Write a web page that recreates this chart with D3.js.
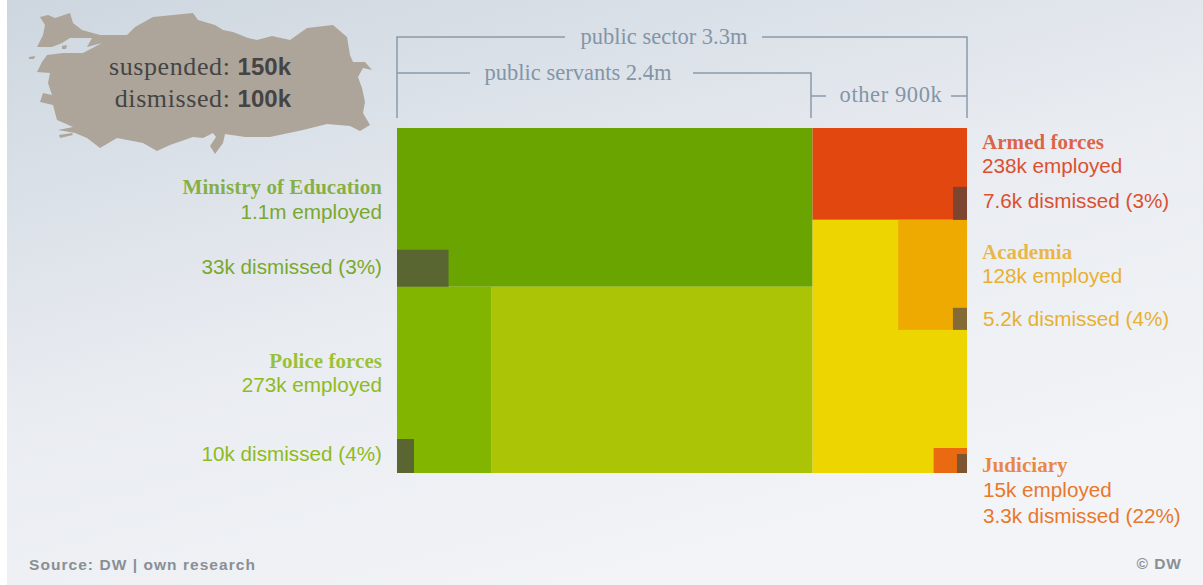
<!DOCTYPE html>
<html>
<head>
<meta charset="utf-8">
<script src="https://d3js.org/d3.v7.min.js"></script>
<style>
  html, body { margin: 0; padding: 0; background: #fff; overflow: hidden; }
  .serif { font-family: "Liberation Serif", serif; }
  .sans { font-family: "Liberation Sans", sans-serif; }
</style>
</head>
<body>
<div id="chart"></div>
<script>
const WIDTH = 1203;
const HEIGHT = 585;

// data (people employed)
const publicSector = 3300000;
const blockNames = ['Ministry of Education', 'Police forces', 'Other servants', 'Armed forces', 'Other rest'];
const blockGroups = ['servants', 'servants', 'servants', 'other', 'other'];
const blockValues = [1107000, 296000, 1003000, 238000, 656000];
const blockColors = ['#6aa400', '#82b500', '#abc406', '#e2470f', '#ecd500'];

const cornerNames = ['Academia', 'Judiciary'];
const cornerValues = [127000, 14000];
const cornerColors = ['#eeaa00', '#ea6a12'];

const dismissedNames = ['Ministry of Education', 'Police forces', 'Armed forces', 'Academia', 'Judiciary'];
const dismissedValues = [32000, 9700, 7700, 5200, 3200];
const dismissedColors = ['#596632', '#596632', '#7d4430', '#846a34', '#7d5530'];

// chart frame
const X0 = 397, X1 = 967, Y0 = 128, Y1 = 473;
const area = (X1 - X0) * (Y1 - Y0) / publicSector; // px2 per person

const svg = d3.select('#chart').append('svg').attr('width', WIDTH).attr('height', HEIGHT);

const defs = svg.append('defs');
const bg = defs.append('linearGradient').attr('id', 'bg')
  .attr('x1', '0').attr('y1', '0').attr('x2', '0.55').attr('y2', '1');
bg.append('stop').attr('offset', '0').attr('stop-color', '#cdd6df');
bg.append('stop').attr('offset', '0.55').attr('stop-color', '#e9ecf1');
bg.append('stop').attr('offset', '1').attr('stop-color', '#f2f4f7');

svg.append('rect').attr('x', 7).attr('y', 0).attr('width', WIDTH - 7).attr('height', HEIGHT).attr('fill', 'url(#bg)');

// turkey outline (traced in image pixels)
const turkey = [[40,17],[48,15],[55,18],[70,13],[73,23],[82,30],[100,35],[127,35],[135,27],[153,17],[193,13],[198,20],[215,25],[223,30],[233,32],[248,38],[257,40],[272,36],[290,40],[307,28],[333,25],[347,37],[350,55],[353,62],[365,62],[372,70],[363,68],[358,77],[362,88],[365,102],[363,113],[370,125],[360,131],[350,126],[327,124],[303,130],[270,137],[245,137],[225,134],[223,143],[215,154],[210,146],[216,137],[213,133],[203,138],[193,137],[170,145],[157,151],[143,143],[117,138],[100,148],[87,138],[75,133],[58,130],[73,127],[57,120],[53,105],[40,102],[43,93],[52,95],[48,83],[50,73],[37,72],[42,62],[47,55],[63,53],[83,53],[102,43],[87,47],[92,38],[70,38],[62,43],[52,47],[37,47],[43,35],[45,25]];
const islets = [[[29,57],[35,56],[34,59],[29,59]], [[59,135],[72,133],[73,135],[60,138]], [[62,46],[67,45],[66,49],[62,49]]];
const turkeyLine = d3.line().curve(d3.curveLinearClosed);
svg.append('path').attr('d', turkeyLine(turkey)).attr('fill', '#ada59a');
svg.selectAll('path.islet').data(islets).enter().append('path')
  .attr('class', 'islet').attr('d', turkeyLine).attr('fill', '#ada59a');

const mapText = svg.append('g').attr('fill', '#444').attr('text-anchor', 'end');
[['suspended: ', '150k', 75], ['dismissed: ', '100k', 107]].forEach(([a, b, y]) => {
  const t = mapText.append('text').attr('x', 291).attr('y', y);
  t.append('tspan').attr('class', 'serif').attr('font-size', 26).attr('letter-spacing', 0.6).text(a);
  t.append('tspan').attr('class', 'sans').attr('font-weight', 'bold').attr('font-size', 24).text(b);
});

// treemap: dice servants/other, slice each group
const rootData = {
  name: 'public sector',
  children: d3.groups(blockNames.map((name, i) => ({ name, group: blockGroups[i], value: blockValues[i], color: blockColors[i] })), d => d.group)
    .map(([name, rows]) => ({ name, children: name === 'servants'
      ? [rows[0], { name: 'rest', children: rows.slice(1) }]
      : rows }))
};
const root = d3.hierarchy(rootData).sum(d => d.value || 0);
d3.treemap().size([X1 - X0, Y1 - Y0]).tile(d3.treemapSliceDice).round(false)(root);

const chart = svg.append('g').attr('transform', `translate(${X0},${Y0})`);
const leaves = root.leaves();
chart.selectAll('rect.block').data(leaves).enter().append('rect')
  .attr('class', 'block')
  .attr('x', d => d.x0).attr('y', d => d.y0)
  .attr('width', d => d.x1 - d.x0).attr('height', d => d.y1 - d.y0)
  .attr('fill', d => d.data.color);

const leaf = name => leaves.find(d => d.data.name === name);
const rest = leaf('Other rest');

// corner blocks: height picked, width follows from the area
const cornerHeights = [110, 25];
const cornerBoxes = cornerNames.map((name, i) => {
  const w = cornerValues[i] * area / cornerHeights[i];
  const y0 = i === 0 ? rest.y0 : rest.y1 - cornerHeights[i];
  return { name, x0: rest.x1 - w, x1: rest.x1, y0, y1: y0 + cornerHeights[i], color: cornerColors[i] };
});
chart.selectAll('rect.corner').data(cornerBoxes).enter().append('rect')
  .attr('class', 'corner')
  .attr('x', d => d.x0).attr('y', d => d.y0)
  .attr('width', d => d.x1 - d.x0).attr('height', d => d.y1 - d.y0)
  .attr('fill', d => d.color);

// dismissed blocks sit in the bottom corner of their parent
const dismissedHeights = [37, 34, 33, 22, 19];
const parentBox = name => {
  const c = cornerBoxes.find(d => d.name === name);
  if (c) return c;
  return leaf(name);
};
const dismissedBoxes = dismissedNames.map((name, i) => {
  const p = parentBox(name);
  const w = dismissedValues[i] * area / dismissedHeights[i];
  const left = p.x0 < 100;
  return { x: left ? p.x0 : p.x1 - w, y: p.y1 - dismissedHeights[i], w, h: dismissedHeights[i], color: dismissedColors[i] };
});
chart.selectAll('rect.dismissed').data(dismissedBoxes).enter().append('rect')
  .attr('class', 'dismissed')
  .attr('x', d => d.x).attr('y', d => d.y)
  .attr('width', d => d.w).attr('height', d => d.h)
  .attr('fill', d => d.color);

// brackets
const bracketColor = '#8a9aaa';
const bracket = d3.line();
const brackets = [
  [[397,118],[397,37],[565,37]], [[762,37],[967,37],[967,118]],
  [[397,73],[470,73]], [[693,73],[811,73],[811,118]],
  [[811,96],[826,96]], [[951,96],[967,96]]
];
svg.selectAll('path.bracket').data(brackets).enter().append('path')
  .attr('class', 'bracket')
  .attr('d', bracket).attr('fill', 'none').attr('stroke', bracketColor).attr('stroke-width', 1.5);

const bracketLabels = [['public sector 3.3m', 664, 44, 0], ['public servants 2.4m', 578, 80, 0], ['other 900k', 891, 102, 0.6]];
svg.selectAll('text.blabel').data(bracketLabels).enter().append('text')
  .attr('class', 'serif blabel')
  .attr('x', d => d[1]).attr('y', d => d[2])
  .attr('text-anchor', 'middle').attr('font-size', 22.5).attr('letter-spacing', d => d[3]).attr('fill', '#8395a7')
  .text(d => d[0]);

// side labels
const labels = [
  ['Ministry of Education', 382, 194, 'serif', '#7aa82e', 'end'],
  ['1.1m employed', 382, 219, 'sans', '#7aa82e', 'end'],
  ['33k dismissed (3%)', 382, 274, 'sans', '#7aa82e', 'end'],
  ['Police forces', 382, 368, 'serif', '#8fbb1c', 'end'],
  ['273k employed', 382, 392, 'sans', '#8fbb1c', 'end'],
  ['10k dismissed (4%)', 382, 461, 'sans', '#8fbb1c', 'end'],
  ['Armed forces', 982, 149, 'serif', '#dc5030', 'start'],
  ['238k employed', 982, 173, 'sans', '#dc5030', 'start'],
  ['7.6k dismissed (3%)', 983, 208, 'sans', '#dc5030', 'start'],
  ['Academia', 982, 259, 'serif', '#e8b030', 'start'],
  ['128k employed', 982, 283, 'sans', '#e8b030', 'start'],
  ['5.2k dismissed (4%)', 983, 326, 'sans', '#e8b030', 'start'],
  ['Judiciary', 982, 472, 'serif', '#e8782c', 'start'],
  ['15k employed', 983, 497, 'sans', '#e8782c', 'start'],
  ['3.3k dismissed (22%)', 983, 523, 'sans', '#e8782c', 'start']
];
svg.selectAll('text.label').data(labels).enter().append('text')
  .attr('class', d => 'label ' + d[3])
  .attr('x', d => d[1]).attr('y', d => d[2])
  .attr('text-anchor', d => d[5]).attr('fill', d => d[4])
  .attr('fill-opacity', d => d[3] === 'serif' ? 0.88 : 1)
  .attr('font-size', d => d[3] === 'serif' ? 21 : 20.7)
  .attr('font-weight', d => d[3] === 'serif' ? 'bold' : 'normal')
  .attr('letter-spacing', d => d[3] === 'serif' ? 0.05 : 0)
  .text(d => d[0]);

// footer
svg.append('text').attr('class', 'sans').attr('x', 29).attr('y', 570)
  .attr('font-size', 15.5).attr('font-weight', 'bold').attr('letter-spacing', 1.05).attr('fill', '#8a8f94').text('Source: DW | own research');
svg.append('text').attr('class', 'sans').attr('x', 1182).attr('y', 569).attr('text-anchor', 'end')
  .attr('font-size', 15.5).attr('font-weight', 'bold').attr('letter-spacing', 1).attr('fill', '#8a8f94').text('© DW');
</script>
</body>
</html>
